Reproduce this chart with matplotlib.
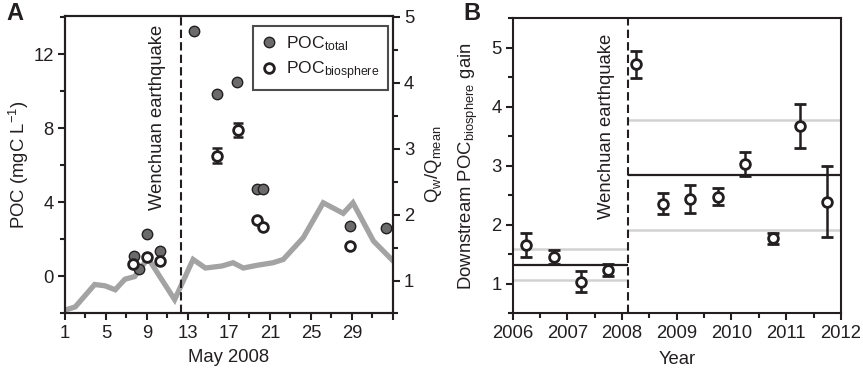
import matplotlib
matplotlib.use('Agg')
import matplotlib.pyplot as plt
from matplotlib.ticker import MultipleLocator

plt.rcParams['font.family'] = ['Liberation Sans', 'DejaVu Sans']
plt.rcParams['mathtext.fontset'] = 'custom'
plt.rcParams['mathtext.rm'] = 'Liberation Sans'
plt.rcParams['mathtext.it'] = 'Liberation Sans:italic'
plt.rcParams['mathtext.default'] = 'regular'

# panel A: POC concentrations in May 2008
days_total = [7.76, 8.25, 8.97, 10.3, 13.6, 15.8, 17.8, 19.73, 20.35, 28.77, 32.3]
poc_total = [1.12, 0.4, 2.29, 1.4, 13.28, 9.84, 10.52, 4.75, 4.75, 2.75, 2.63]
days_bio = [7.66, 8.97, 10.3, 15.86, 17.85, 19.73, 20.35, 28.8]
poc_bio = [0.69, 1.05, 0.85, 6.53, 7.92, 3.06, 2.68, 1.66]
poc_bio_err = [0, 0, 0, 0.4, 0.4, 0, 0, 0]
day_ticks = [1, 5, 9, 13, 17, 21, 25, 29, 33]
day_labels = ['1', '5', '9', '13', '17', '21', '25', '29', '']

# water discharge ratio Qw/Qmean
q_days = [1, 2, 3.9, 4.9, 5.9, 6.85, 7.8, 9.1, 11.7, 13.5, 14.7, 16.3, 17.4,
          18.4, 19.7, 21.3, 22.3, 24.25, 26.2, 28.15, 29.1, 31.1, 33]
q_ratio = [0.55, 0.6, 0.94, 0.92, 0.86, 1.02, 1.06, 1.34, 0.71, 1.32, 1.19, 1.22, 1.27,
           1.19, 1.23, 1.27, 1.32, 1.65, 2.18, 2.02, 2.18, 1.6, 1.30]
quake_day = 12.3

# panel B: downstream POC biosphere gain
years = [2006.25, 2006.75, 2007.25, 2007.75, 2008.25, 2008.75,
         2009.25, 2009.75, 2010.25, 2010.75, 2011.25, 2011.75]
gain = [1.66, 1.45, 1.04, 1.24, 4.72, 2.36, 2.44, 2.48, 3.03, 1.77, 3.68, 2.39]
gain_err = [0.2, 0.12, 0.18, 0.1, 0.23, 0.18, 0.23, 0.14, 0.2, 0.1, 0.37, 0.6]
quake_year = 2008.1
pre_mean, pre_lo, pre_hi = 1.32, 1.06, 1.60
post_mean, post_lo, post_hi = 2.85, 1.91, 3.78

dark = '#231f20'
fs = 13.3

fig = plt.figure(figsize=(8.63, 3.77), dpi=100)
axA = fig.add_axes([0.0753, 0.1685, 0.380, 0.790])
axB = fig.add_axes([0.594, 0.1685, 0.3804, 0.783])


def style(ax):
    for s in ax.spines.values():
        s.set_color(dark)
        s.set_linewidth(1.5)
    ax.tick_params(which='both', direction='out', color=dark, width=1.5,
                   labelsize=fs, labelcolor=dark)
    ax.tick_params(which='major', length=5, pad=3)
    ax.tick_params(which='minor', length=3.5)


# ---- panel A ----
axQ = axA.twinx()
axQ.plot(q_days, q_ratio, color='#a3a3a3', lw=3.8, solid_joinstyle='miter', zorder=1)
axQ.set_ylim(0.5, 5.02)
axQ.yaxis.set_major_locator(MultipleLocator(1))
axQ.yaxis.set_minor_locator(MultipleLocator(0.5))
axQ.set_ylabel('Q$_w$/Q$_{mean}$', fontsize=fs, color=dark, labelpad=6)
style(axQ)

axA.set_zorder(axQ.get_zorder() + 1)
axA.patch.set_visible(False)
axA.axvline(quake_day, color=dark, lw=1.5, dashes=(4, 2))
axA.errorbar(days_bio, poc_bio, yerr=poc_bio_err, fmt='none', ecolor=dark,
             elinewidth=1.8, capsize=3.5, capthick=1.8, zorder=3)
axA.plot(days_total, poc_total, 'o', ms=7.5, mfc='#6b6b6b', mec=dark, mew=1,
         ls='none', label='POC$_{total}$', zorder=4)
axA.plot(days_bio, poc_bio, 'o', ms=7, mfc='white', mec=dark, mew=2,
         ls='none', label='POC$_{biosphere}$', zorder=5)
axA.set_xlim(1, 33)
axA.set_ylim(-2, 14.1)
axA.set_xticks(day_ticks)
axA.set_xticklabels(day_labels)
axA.xaxis.set_minor_locator(MultipleLocator(2, offset=1))
axA.yaxis.set_major_locator(MultipleLocator(4))
axA.yaxis.set_minor_locator(MultipleLocator(2))
axA.set_xlabel('May 2008', fontsize=fs, color=dark, labelpad=5)
axA.set_ylabel('POC (mgC L$^{-1}$)', fontsize=fs, color=dark, labelpad=2)
axA.text(10.0, 13.6, 'Wenchuan earthquake', rotation=90, ha='center', va='top',
         fontsize=fs, color=dark)
style(axA)
leg = axA.legend(loc='upper right', bbox_to_anchor=(0.984, 0.965), borderaxespad=0,
                 fontsize=12.6, frameon=True, fancybox=False, handletextpad=0.55,
                 handlelength=0.9, borderpad=0.45, labelspacing=0.4)
leg.get_frame().set_edgecolor(dark)
leg.get_frame().set_linewidth(1.5)
for t in leg.get_texts():
    t.set_color(dark)

# ---- panel B ----
axB.axvline(quake_year, color=dark, lw=1.5, dashes=(4, 2), zorder=2)
axB.hlines([pre_lo, pre_hi], 2006, quake_year, color='#d2d2d2', lw=1.8, zorder=1)
axB.hlines([post_lo, post_hi], quake_year, 2012, color='#d2d2d2', lw=1.8, zorder=1)
axB.hlines(pre_mean, 2006, quake_year, color=dark, lw=1.6, zorder=2)
axB.hlines(post_mean, quake_year, 2012, color=dark, lw=1.6, zorder=2)
axB.errorbar(years, gain, yerr=gain_err, fmt='o', ms=7, mfc='white', mec=dark, mew=2,
             ecolor=dark, elinewidth=1.8, capsize=4, capthick=1.8, zorder=4)
axB.set_xlim(2006, 2012)
axB.set_ylim(0.5, 5.5)
axB.xaxis.set_major_locator(MultipleLocator(1))
axB.xaxis.set_minor_locator(MultipleLocator(0.5))
axB.yaxis.set_major_locator(MultipleLocator(1))
axB.yaxis.set_minor_locator(MultipleLocator(0.5))
axB.set_xlabel('Year', fontsize=fs, color=dark, labelpad=7)
axB.set_ylabel('Downstream POC$_{biosphere}$ gain', fontsize=fs, color=dark, labelpad=8)
axB.text(2007.72, 5.23, 'Wenchuan earthquake', rotation=90, ha='center', va='top',
         fontsize=fs, color=dark)
style(axB)

fig.text(0.008, 0.995, 'A', fontsize=17, fontweight='bold', va='top', color=dark)
fig.text(0.537, 0.995, 'B', fontsize=17, fontweight='bold', va='top', color=dark)

fig.savefig('out.png', dpi=100)
